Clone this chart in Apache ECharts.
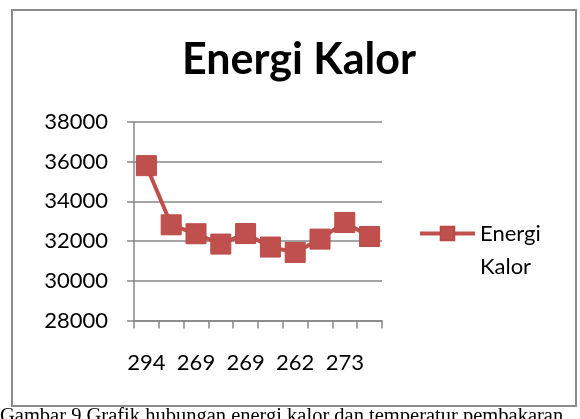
<!DOCTYPE html>
<html>
<head>
<meta charset="utf-8">
<script src="https://cdn.jsdelivr.net/npm/echarts@6/dist/echarts.min.js"></script>
<style>html,body{margin:0;padding:0;background:#fff}#c{width:580px;height:419px}</style>
</head>
<body>
<div id="c"></div>
<script>
// Data
var titleText = 'Energi Kalor';
var seriesName = 'Energi Kalor';
var categories = ['294', '281', '269', '270', '269', '266', '262', '268', '273', '271'];
var energiKalor = [35800, 32820, 32370, 31850, 32380, 31700, 31430, 32100, 32940, 32230];
var yMin = 28000, yMax = 38000, yStep = 2000;
var captionText = 'Gambar 9 Grafik hubungan energi kalor dan temperatur pembakaran';

var chart = echarts.init(document.getElementById('c'));
var gray = '#878787';
var red = '#C0504D';
chart.setOption({
  animation: false,
  backgroundColor: '#fff',
  title: {
    text: titleText,
    left: 294, top: 34, textAlign: 'center',
    textStyle: { fontFamily: 'Lato', fontWeight: 'bold', fontSize: 43, color: '#000' }
  },
  legend: {
    left: 418, top: 184, padding: 0,
    itemWidth: 55, itemHeight: 17,
    lineStyle: { width: 4, color: red },
    formatter: function () { return ' \nEnergi\nKalor'; },
    textStyle: { fontFamily: 'Lato', fontSize: 22, color: '#000', lineHeight: 33 },
    data: [seriesName]
  },
  grid: { left: 134, right: 198, top: 122, bottom: 98.5, containLabel: false },
  xAxis: {
    type: 'category', data: categories, boundaryGap: true,
    axisLine: { show: true, lineStyle: { color: gray, width: 1.5 } },
    axisTick: { show: true, interval: 0, length: 8, lineStyle: { color: gray, width: 1.5 } },
    axisLabel: { interval: 1, margin: 31, fontFamily: 'Lato', fontSize: 22, color: '#000' },
    splitLine: { show: false }
  },
  yAxis: {
    type: 'value', min: yMin, max: yMax, interval: yStep,
    axisLine: { show: true, lineStyle: { color: gray, width: 1.5 } },
    axisTick: { show: true, length: 7, lineStyle: { color: gray, width: 1.5 } },
    axisLabel: { margin: 26, fontFamily: 'Lato', fontSize: 22, color: '#000', formatter: function (v) { return String(v); } },
    splitLine: { show: true, lineStyle: { color: gray, width: 1.5 } }
  },
  series: [{
    name: seriesName, type: 'line', data: energiKalor,
    symbol: 'rect', symbolSize: 20, showAllSymbol: true,
    lineStyle: { color: red, width: 4 },
    itemStyle: { color: red, borderColor: '#B94A47', borderWidth: 1 }
  }],
  graphic: [
    { type: 'rect', shape: { x: 12, y: 10, width: 564, height: 396 }, style: { fill: 'none', stroke: '#8c8c8c', lineWidth: 2 }, silent: true },
    { type: 'text', left: 0, top: 406, style: { text: captionText, font: '20.5px "Liberation Serif"', fill: '#000' }, silent: true }
  ]
});
</script>
</body>
</html>
